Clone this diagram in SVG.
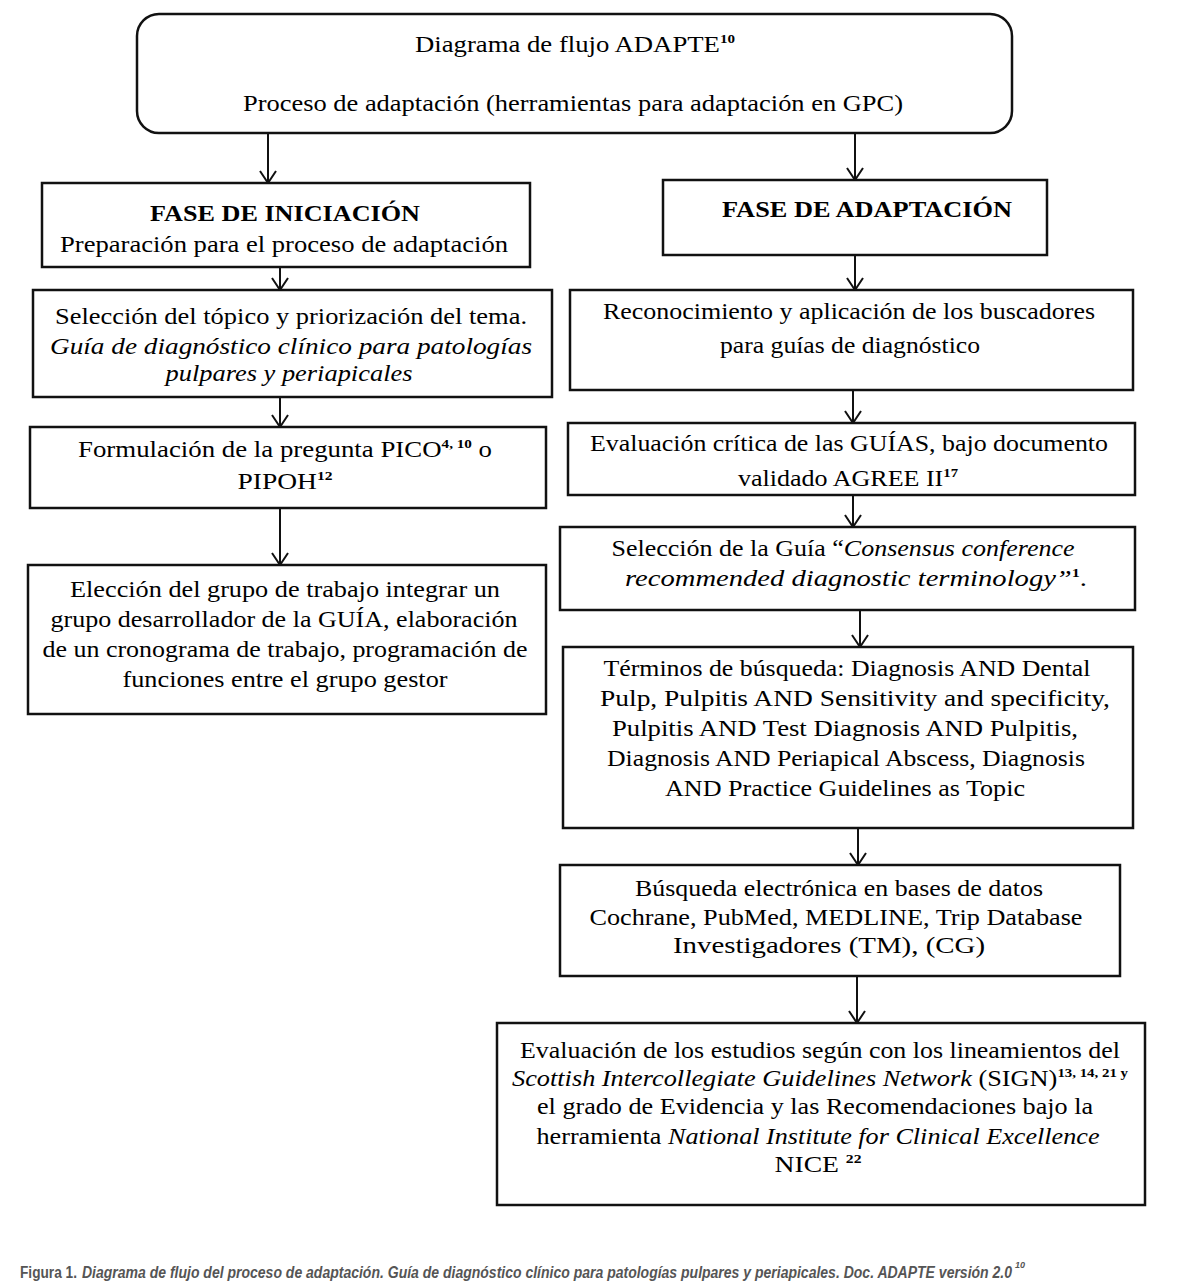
<svg xmlns="http://www.w3.org/2000/svg" width="1203" height="1285" viewBox="0 0 1203 1285">
<style>
.box{fill:#fff;stroke:#111;stroke-width:2.5}
.t{font-family:"Liberation Serif","DejaVu Serif",serif;font-size:23px;fill:#000;text-anchor:middle}
.b{font-weight:bold}
.i{font-style:italic}
.sup{font-size:13px;font-weight:bold}
.con line{stroke:#111;stroke-width:2}
.cap{font-family:"Liberation Sans Narrow","Liberation Sans",Arial,sans-serif;font-size:16px;fill:#555;font-weight:bold}
.capsup{font-family:"Liberation Sans Narrow","Liberation Sans",Arial,sans-serif;font-size:9px;fill:#555;font-weight:bold;font-style:italic}
</style>
<defs>
<marker id="ah" viewBox="0 0 14 18" refX="13" refY="9" markerWidth="14" markerHeight="18" markerUnits="userSpaceOnUse" orient="auto">
<path d="M1 1 L13 9 L1 17" fill="none" stroke="#111" stroke-width="2"/>
</marker>
</defs>
<rect width="1203" height="1285" fill="#fff"/>

<g id="top">
<rect class="box" x="137" y="14" width="875" height="119" rx="22"/>
<text class="t" x="575" y="52" textLength="320" lengthAdjust="spacingAndGlyphs">Diagrama de flujo ADAPTE<tspan class="sup" dy="-9">10</tspan></text>
<text class="t" x="573" y="111" textLength="660" lengthAdjust="spacingAndGlyphs">Proceso de adaptación (herramientas para adaptación en GPC)</text>
</g>

<g id="fase-iniciacion">
<rect class="box" x="42" y="183" width="488" height="84"/>
<text class="t b" x="285" y="221" textLength="270" lengthAdjust="spacingAndGlyphs">FASE DE INICIACIÓN</text>
<text class="t" x="284" y="252" textLength="448" lengthAdjust="spacingAndGlyphs">Preparación para el proceso de adaptación</text>
</g>

<g id="seleccion-topico">
<rect class="box" x="33" y="290" width="519" height="107"/>
<text class="t" x="291" y="324" textLength="472" lengthAdjust="spacingAndGlyphs">Selección del tópico y priorización del tema.</text>
<text class="t i" x="291" y="354" textLength="482" lengthAdjust="spacingAndGlyphs">Guía  de diagnóstico clínico  para patologías</text>
<text class="t i" x="289" y="381" textLength="247" lengthAdjust="spacingAndGlyphs">pulpares y periapicales</text>
</g>

<g id="pico">
<rect class="box" x="30" y="427" width="516" height="81"/>
<text class="t" x="285" y="457" textLength="414" lengthAdjust="spacingAndGlyphs">Formulación de la pregunta PICO<tspan class="sup" dy="-9">4, 10</tspan><tspan dy="9">  o</tspan></text>
<text class="t" x="285" y="489" textLength="95" lengthAdjust="spacingAndGlyphs">PIPOH<tspan class="sup" dy="-9">12</tspan></text>
</g>

<g id="grupo-trabajo">
<rect class="box" x="28" y="565" width="518" height="149"/>
<text class="t" x="285" y="597" textLength="430" lengthAdjust="spacingAndGlyphs">Elección del grupo de trabajo integrar un</text>
<text class="t" x="284" y="627" textLength="467" lengthAdjust="spacingAndGlyphs">grupo desarrollador de la GUÍA, elaboración</text>
<text class="t" x="285" y="657" textLength="485" lengthAdjust="spacingAndGlyphs">de un cronograma de trabajo, programación de</text>
<text class="t" x="285" y="687" textLength="325" lengthAdjust="spacingAndGlyphs">funciones entre el grupo gestor</text>
</g>

<g id="fase-adaptacion">
<rect class="box" x="663" y="180" width="384" height="75"/>
<text class="t b" x="867" y="217" textLength="290" lengthAdjust="spacingAndGlyphs">FASE DE ADAPTACIÓN</text>
</g>

<g id="buscadores">
<rect class="box" x="570" y="290" width="563" height="100"/>
<text class="t" x="849" y="319" textLength="492" lengthAdjust="spacingAndGlyphs">Reconocimiento y aplicación de los buscadores</text>
<text class="t" x="850" y="353" textLength="260" lengthAdjust="spacingAndGlyphs">para guías de diagnóstico</text>
</g>

<g id="evaluacion-critica">
<rect class="box" x="568" y="423" width="567" height="72"/>
<text class="t" x="849" y="451" textLength="518" lengthAdjust="spacingAndGlyphs">Evaluación crítica de las GUÍAS, bajo documento</text>
<text class="t" x="848" y="486" textLength="220" lengthAdjust="spacingAndGlyphs">validado AGREE II<tspan class="sup" dy="-9">17</tspan></text>
</g>

<g id="seleccion-guia">
<rect class="box" x="560" y="527" width="575" height="83"/>
<text class="t" x="843" y="556" textLength="463" lengthAdjust="spacingAndGlyphs">Selección de la Guía  “<tspan class="i">Consensus conference</tspan></text>
<text class="t" x="856" y="586" textLength="462" lengthAdjust="spacingAndGlyphs"><tspan class="i">recommended diagnostic terminology”</tspan><tspan class="sup" dy="-9">1</tspan><tspan dy="9">.</tspan></text>
</g>

<g id="terminos">
<rect class="box" x="563" y="647" width="570" height="181"/>
<text class="t" x="847" y="676" textLength="487" lengthAdjust="spacingAndGlyphs">Términos de búsqueda: Diagnosis AND Dental</text>
<text class="t" x="855" y="706" textLength="510" lengthAdjust="spacingAndGlyphs">Pulp, Pulpitis AND Sensitivity and specificity,</text>
<text class="t" x="845" y="736" textLength="466" lengthAdjust="spacingAndGlyphs">Pulpitis AND Test Diagnosis AND Pulpitis,</text>
<text class="t" x="846" y="766" textLength="478" lengthAdjust="spacingAndGlyphs">Diagnosis AND Periapical Abscess, Diagnosis</text>
<text class="t" x="845" y="796" textLength="360" lengthAdjust="spacingAndGlyphs">AND Practice Guidelines as Topic</text>
</g>

<g id="busqueda">
<rect class="box" x="560" y="865" width="560" height="111"/>
<text class="t" x="839" y="896" textLength="408" lengthAdjust="spacingAndGlyphs">Búsqueda  electrónica en bases de datos</text>
<text class="t" x="836" y="925" textLength="493" lengthAdjust="spacingAndGlyphs">Cochrane, PubMed, MEDLINE, Trip Database</text>
<text class="t" x="829" y="953" textLength="312" lengthAdjust="spacingAndGlyphs">Investigadores (TM), (CG)</text>
</g>

<g id="evaluacion-estudios">
<rect class="box" x="497" y="1023" width="648" height="182"/>
<text class="t" x="820" y="1058" textLength="600" lengthAdjust="spacingAndGlyphs">Evaluación de los estudios según con los lineamientos del</text>
<text class="t" x="820" y="1086" textLength="616" lengthAdjust="spacingAndGlyphs"><tspan class="i">Scottish Intercollegiate Guidelines Network</tspan> (SIGN)<tspan class="sup" dy="-9">13, 14, 21 y</tspan></text>
<text class="t" x="815" y="1114" textLength="556" lengthAdjust="spacingAndGlyphs">el grado de Evidencia y las Recomendaciones bajo la</text>
<text class="t" x="818" y="1144" textLength="563" lengthAdjust="spacingAndGlyphs">herramienta <tspan class="i">National Institute for Clinical Excellence</tspan></text>
<text class="t" x="818" y="1172" textLength="87" lengthAdjust="spacingAndGlyphs">NICE <tspan class="sup" dy="-9">22</tspan></text>
</g>

<g id="connectors" class="con">
<line x1="268" y1="133" x2="268" y2="183" marker-end="url(#ah)"/>
<line x1="855" y1="133" x2="855" y2="180" marker-end="url(#ah)"/>
<line x1="280" y1="267" x2="280" y2="290" marker-end="url(#ah)"/>
<line x1="280" y1="397" x2="280" y2="427" marker-end="url(#ah)"/>
<line x1="280" y1="508" x2="280" y2="565" marker-end="url(#ah)"/>
<line x1="855" y1="255" x2="855" y2="290" marker-end="url(#ah)"/>
<line x1="853" y1="390" x2="853" y2="423" marker-end="url(#ah)"/>
<line x1="853" y1="495" x2="853" y2="527" marker-end="url(#ah)"/>
<line x1="860" y1="610" x2="860" y2="647" marker-end="url(#ah)"/>
<line x1="858" y1="828" x2="858" y2="865" marker-end="url(#ah)"/>
<line x1="857" y1="976" x2="857" y2="1023" marker-end="url(#ah)"/>
</g>

<g id="caption">
<text class="cap" x="20" y="1278" textLength="57" lengthAdjust="spacingAndGlyphs">Figura 1.</text>
<text class="cap" x="82" y="1278" font-style="italic" textLength="930" lengthAdjust="spacingAndGlyphs">Diagrama de flujo del proceso de adaptación. Guía de diagnóstico clínico para patologías pulpares y periapicales. Doc. ADAPTE versión 2.0</text>
<text class="capsup" x="1015" y="1268">10</text>
</g>
</svg>
